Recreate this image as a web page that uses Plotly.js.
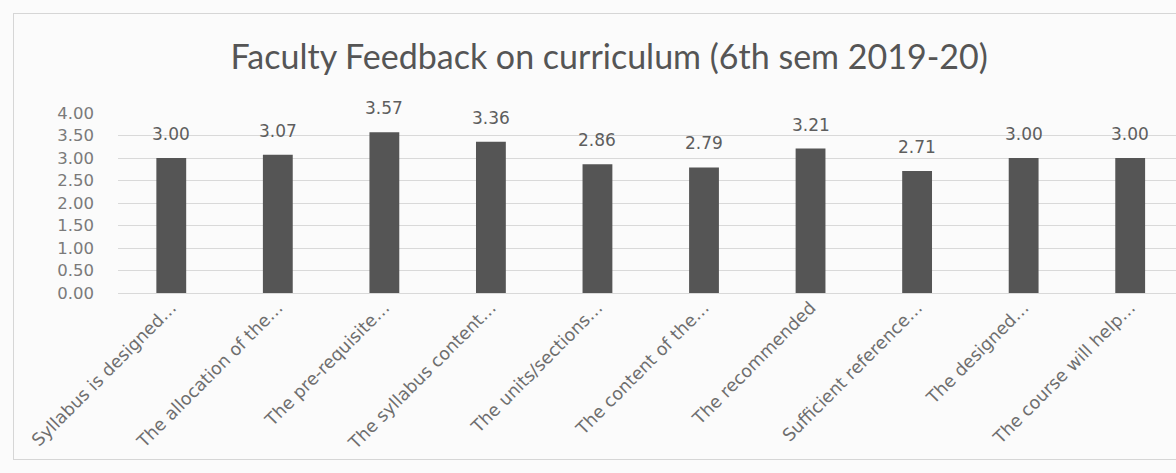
<!DOCTYPE html>
<html><head><meta charset="utf-8">
<script src="https://cdn.plot.ly/plotly-3.0.1.min.js"></script>
<style>
html,body{margin:0;padding:0;background:#fbfbfb;overflow:hidden;}
#frame{position:absolute;left:13px;top:13px;width:1200px;height:445px;border:1px solid #d6d6d6;}
#chart{position:absolute;left:0;top:0;width:1176px;height:473px;}
</style></head>
<body>
<div id="frame"></div>
<div id="chart"></div>
<script>
const categories = ["Syllabus is designed…","The allocation of the…","The pre-requisite…","The syllabus content…","The units/sections…","The content of the…","The recommended","Sufficient reference…","The designed…","The course will help…"];
const values = [3.00, 3.07, 3.57, 3.36, 2.86, 2.79, 3.21, 2.71, 3.00, 3.00];
const yTicks = [0, 0.5, 1, 1.5, 2, 2.5, 3, 3.5, 4];
const yTickText = ["0.00","0.50","1.00","1.50","2.00","2.50","3.00","3.50","4.00"];
const titleText = "Faculty Feedback on curriculum (6th sem 2019-20)";

const xIdx = categories.map((c,i)=>i);
const trace = {
  type: 'bar',
  x: xIdx,
  y: values,
  marker: {color: '#555555'},
  hoverinfo: 'none'
};
const labelFont = {family: '"DejaVu Sans", sans-serif', size: 17, color: '#5e5e5e'};
const annotations = values.map((v,i)=>({
  x: xIdx[i], y: v, xref: 'x', yref: 'y',
  text: v.toFixed(2), showarrow: false,
  yanchor: 'middle', yshift: 24, font: labelFont
}));
const layout = {
  width: 1176, height: 473,
  margin: {l: 118, r: 0, t: 113, b: 180},
  paper_bgcolor: 'rgba(0,0,0,0)',
  plot_bgcolor: 'rgba(0,0,0,0)',
  bargap: 0.72,
  showlegend: false,
  font: {family: '"DejaVu Sans", sans-serif', color: '#5e5e5e'},
  title: {text: titleText, font: {size: 34, color: '#555555', family: 'Lato, "Open Sans", sans-serif'},
          xref: 'container', x: 0.518, xanchor: 'center', yref: 'container', y: 0.88, yanchor: 'middle'},
  annotations: annotations,
  xaxis: {
    range: [-0.5, 9.43],
    tickmode: 'array', tickvals: xIdx, ticktext: categories,
    tickangle: -45, tickfont: {family: '"DejaVu Sans", sans-serif', size: 17.5, color: '#6e6e6e'},
    showgrid: false, zeroline: false, showline: false, ticks: ''
  },
  yaxis: {
    range: [0, 4], tickmode: 'array', tickvals: yTicks, ticktext: yTickText,
    tickfont: {family: '"DejaVu Sans", sans-serif', size: 16.5, color: '#7a7a7a'},
    showgrid: true, gridcolor: '#d9d9d9', gridwidth: 1,
    zeroline: true, zerolinecolor: '#d9d9d9', showline: false,
    ticklabelstandoff: 23
  }
};
Plotly.newPlot('chart', [trace], layout, {displayModeBar: false, staticPlot: true});
</script>
</body></html>
